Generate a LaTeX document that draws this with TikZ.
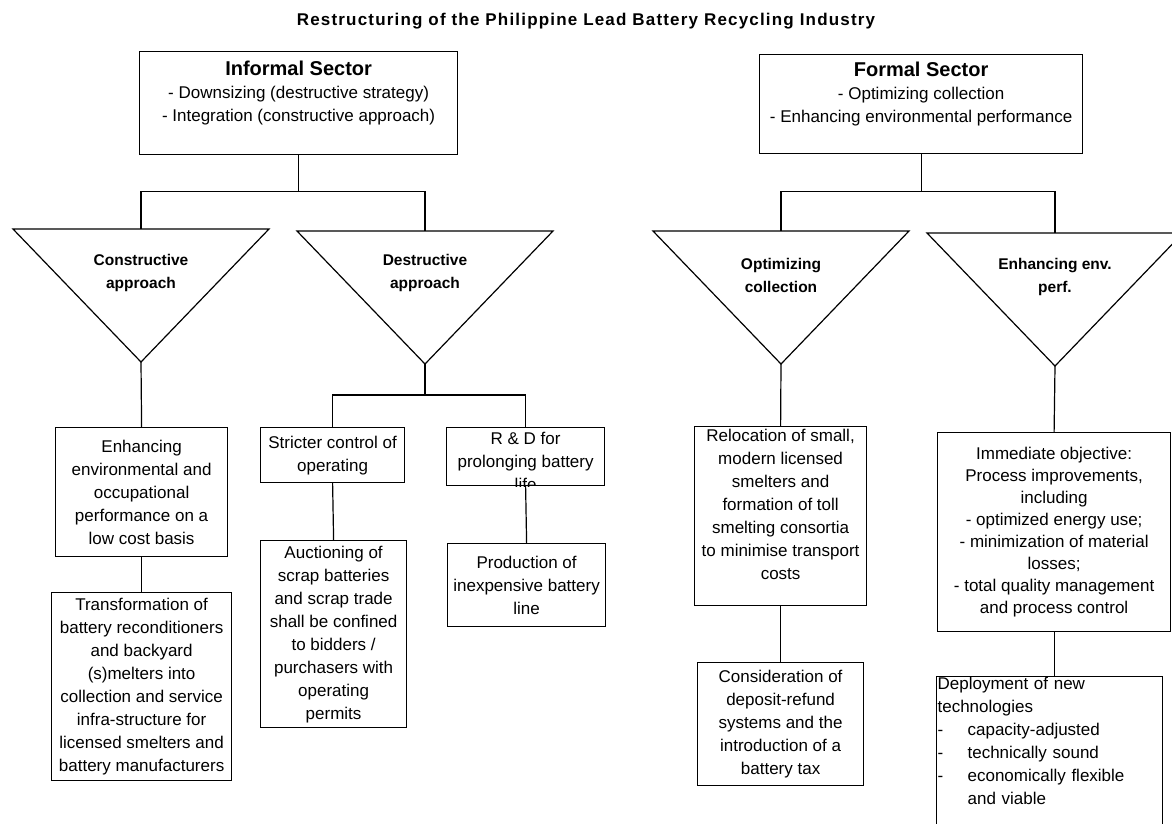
\documentclass[tikz,border=0pt]{standalone}
\usepackage{fontspec}
\setmainfont{Liberation Sans}
\usetikzlibrary{positioning}
\tikzset{
    box/.style={draw,line width=1.2pt,anchor=north west,align=center,inner sep=1pt,font=\fontsize{17}{23}\selectfont},
    tri/.style={draw,line width=1.2pt,line join=miter},
    trilabel/.style={align=center,font=\bfseries\fontsize{15.5}{23}\selectfont},
    wire/.style={line width=1.2pt},
    heading/.style={font=\bfseries\fontsize{17}{20}\selectfont\addfontfeature{LetterSpace=7}}
}

\begin{document}
\begin{tikzpicture}[x=1pt,y=-1pt]
    \clip (0,0) rectangle (1172,823);
    \node [heading] (head) at (586,21) {Restructuring of the Philippine Lead Battery Recycling Industry};

    \node [box,minimum width=318,minimum height=103] (inf) at (139,51) {{\fontsize{20}{26}\selectfont\bfseries Informal Sector}\\- Downsizing (destructive strategy)\\- Integration (constructive approach)\\~};
    \node [box,minimum width=323,minimum height=99] (form) at (759,54) {{\fontsize{20}{26}\selectfont\bfseries Formal Sector}\\- Optimizing collection\\- Enhancing environmental performance\\~};

    \foreach \n/\x/\y in {con/141/229,des/425/231,opt/781/231,env/1055/233} {
        \draw [tri] (\x-128,\y) -- (\x+128,\y) -- (\x,\y+133) -- cycle;
        \coordinate (\n-top) at (\x,\y);
        \coordinate (\n-tip) at (\x,\y+133);
    }
    \node [trilabel] (con) at (141,273) {Constructive\\approach};
    \node [trilabel] (des) at (425,273) {Destructive\\approach};
    \node [trilabel] (opt) at (781,275) {Optimizing\\collection};
    \node [trilabel] (env) at (1055,277) {Enhancing env.\\perf.};

    \node [box,minimum width=172,minimum height=129] (enh) at (55,427) {Enhancing\\environmental and\\occupational\\performance on a\\low cost basis};
    \node [box,minimum width=180,minimum height=188] (trans) at (51,592) {Transformation of\\battery reconditioners\\and backyard\\(s)melters into\\collection and service\\infra-structure for\\licensed smelters and\\battery manufacturers};
    \node [box,minimum width=144,minimum height=55] (strict) at (260,427) {Stricter control of\\operating};
    \node [box,minimum width=146,minimum height=187] (auc) at (260,540) {Auctioning of\\scrap batteries\\and scrap trade\\shall be confined\\to bidders /\\purchasers with\\operating\\permits};
    \node [box,minimum width=158,minimum height=58] (rd) at (446,427) {};
    \begin{scope}
        \clip (rd.north west) rectangle (rd.south east);
        \node [anchor=north,align=center,inner sep=0pt,font=\fontsize{17}{23}\selectfont] (rdtext) at ([yshift=-5pt]rd.north) {R \& D for\\prolonging battery\\life};
    \end{scope}
    \node [box,minimum width=158,minimum height=83] (prod) at (447,543) {Production of\\inexpensive battery\\line};

    \node [box,minimum width=172,minimum height=179] (reloc) at (694,426) {Relocation of small,\\modern licensed\\smelters and\\formation of toll\\smelting consortia\\to minimise transport\\costs\\~};
    \node [box,minimum width=166,minimum height=123] (cons) at (697,662) {Consideration of\\deposit-refund\\systems and the\\introduction of a\\battery tax};
    \node [box,minimum width=233,minimum height=199,font=\fontsize{17}{22}\selectfont] (imm) at (937,432) {Immediate objective:\\Process improvements,\\including\\- optimized energy use;\\- minimization of material\\losses;\\- total quality management\\and process control};
    \node [box,align=left,text width=224] (dep) at (936,676) {Deployment of new\\technologies\\\makebox[30pt][l]{-}capacity-adjusted\\\makebox[30pt][l]{-}technically sound\\\makebox[30pt][l]{-}economically flexible\\\hspace*{30pt}and viable\\~};

    \draw [wire] (inf.south) -- ++(0,36) coordinate (ibus);
    \draw [wire] (con-top) |- (ibus) -| (des-top);
    \draw [wire] (form.south) -- ++(0,37) coordinate (fbus);
    \draw [wire] (opt-top) |- (fbus) -| (env-top);

    \draw [wire] (con-tip) -- (enh.north);
    \draw [wire] (enh.south) -- (trans.north);
    \draw [wire] (des-tip) -- ++(0,31) coordinate (dbus);
    \draw [wire] (strict.north) |- (dbus) -| (rd.north);
    \draw [wire] (strict.south) -- (auc.north);
    \draw [wire] (rd.south) -- (prod.north);

    \draw [wire] (opt-tip) -- (reloc.north);
    \draw [wire] (reloc.south) -- (cons.north);
    \draw [wire] (env-tip) -- (imm.north);
    \draw [wire] (imm.south) -- (imm.south |- dep.north);
\end{tikzpicture}
\end{document}
